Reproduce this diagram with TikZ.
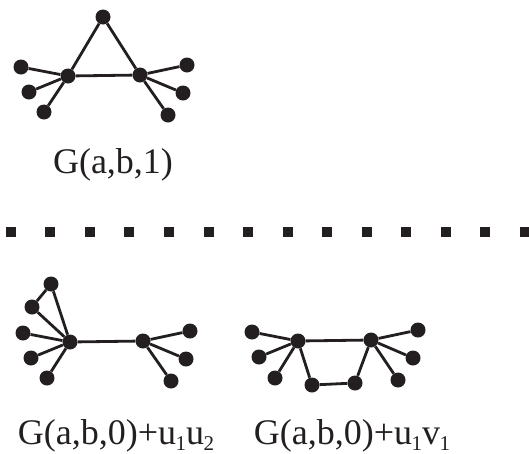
\documentclass[tikz,border=0pt]{standalone}
\usepackage{fontspec}
\setmainfont{Liberation Serif}
\definecolor{ink}{HTML}{231F20}
% small lowered index, tight to the preceding letter
\newcommand{\lowidx}[1]{\kern-0.5pt\raisebox{-6pt}{\fontsize{21}{21}\selectfont #1}}
\begin{document}
\begin{tikzpicture}[x=1pt,y=-1pt,
  vtx/.style={circle,fill=ink,inner sep=0pt,minimum size=15pt},
  edge/.style={draw=ink,line width=2.8pt},
  lbl/.style={font=\fontsize{36}{38}\selectfont,text=ink,inner sep=0pt,anchor=base}]
\useasboundingbox (0,0) rectangle (529,453);

% G(a,b,1): triangle with pendant vertices
\node[vtx] (t0) at (103,17) {};
\node[vtx] (tl) at (68,76) {};
\node[vtx] (tr) at (140,75) {};
\node[vtx] (tl1) at (21,67) {};
\node[vtx] (tl2) at (29,92) {};
\node[vtx] (tl3) at (44,112) {};
\node[vtx] (tr1) at (187,65) {};
\node[vtx] (tr2) at (183,93) {};
\node[vtx] (tr3) at (168,115) {};
\draw[edge] (t0) -- (tl) -- (tr) -- (t0);
\foreach \v in {tl1,tl2,tl3} \draw[edge] (tl) -- (\v);
\foreach \v in {tr1,tr2,tr3} \draw[edge] (tr) -- (\v);
\node[lbl] (lab1) at (113,173) {G(a,b,1)};

% separator
\foreach \i in {0,...,13}
  \fill[ink] ({10.7+39.56*\i-5},227) rectangle ++(10,10);

% G(a,b,0)+u1u2
\node[vtx] (al) at (70,342) {};
\node[vtx] (ar) at (143,341) {};
\node[vtx] (a1) at (51,284) {};
\node[vtx] (a2) at (32,307) {};
\node[vtx] (a3) at (23,333) {};
\node[vtx] (a4) at (31,358) {};
\node[vtx] (a5) at (47,378) {};
\node[vtx] (b1) at (190,331) {};
\node[vtx] (b2) at (186,359) {};
\node[vtx] (b3) at (171,381) {};
\draw[edge] (al) -- (ar);
\draw[edge] (a1) -- (a2);
\foreach \v in {a1,a2,a3,a4,a5} \draw[edge] (al) -- (\v);
\foreach \v in {b1,b2,b3} \draw[edge] (ar) -- (\v);
\node[lbl] (lab2) at (116,444) {G(a,b,0)+u\lowidx{1}u\lowidx{2}};

% G(a,b,0)+u1v1
\node[vtx] (cl) at (298,341) {};
\node[vtx] (cr) at (371,340) {};
\node[vtx] (c1) at (252,332) {};
\node[vtx] (c2) at (259,357) {};
\node[vtx] (c3) at (275,378) {};
\node[vtx] (m1) at (312,385) {};
\node[vtx] (m2) at (355,383) {};
\node[vtx] (d1) at (418,330) {};
\node[vtx] (d2) at (413,358) {};
\node[vtx] (d3) at (398,380) {};
\draw[edge] (cl) -- (cr) -- (m2) -- (m1) -- (cl);
\foreach \v in {c1,c2,c3} \draw[edge] (cl) -- (\v);
\foreach \v in {d1,d2,d3} \draw[edge] (cr) -- (\v);
\node[lbl] (lab3) at (352,444) {G(a,b,0)+u\lowidx{1}v\lowidx{1}};
\end{tikzpicture}
\end{document}
